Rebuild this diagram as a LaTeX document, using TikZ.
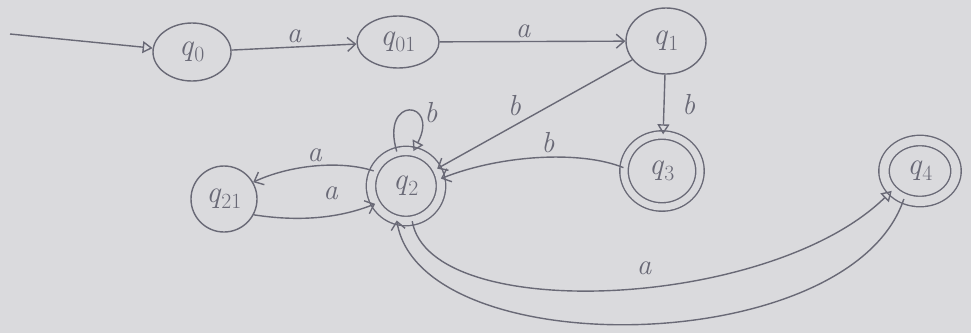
\documentclass[tikz,border=0pt]{standalone}
\usetikzlibrary{arrows.meta,shapes.geometric}
\definecolor{paper}{RGB}{218,218,221}
\definecolor{pencil}{RGB}{105,105,118}
\newcommand{\qs}[1]{\textit{q}\textsubscript{#1}}
\begin{document}
\begin{tikzpicture}[x=1pt,y=-1pt,
  st/.style={draw=pencil, line width=1.4pt, ellipse, inner sep=0pt, text=pencil, font=\fontsize{31}{36}\selectfont},
  acc/.style={st, double=paper, double distance=8pt},
  tr/.style={draw=pencil, line width=1.4pt, -{Straight Barb[length=8pt,width=14pt]}},
  trt/.style={draw=pencil, line width=1.4pt, -{Triangle[open,length=10pt,width=12pt]}},
  lab/.style={text=pencil, font=\fontsize{29}{33}\selectfont\itshape}]
\fill[paper] (0,0) rectangle (971,333);
\useasboundingbox (0,0) rectangle (971,333);

\node[st, minimum width=78pt, minimum height=58pt] (q0) at (192,52) {\qs{0}};
\node[st, minimum width=82pt, minimum height=52pt] (q01) at (398,42) {\qs{01}};
\node[st, minimum width=80pt, minimum height=66pt] (q1) at (666,41) {\qs{1}};
\node[acc, minimum width=70pt, minimum height=70pt] (q2) at (406,186) {\qs{2}};
\node[st, minimum width=66pt, minimum height=66pt] (q21) at (224,199) {\qs{21}};
\node[acc, minimum width=76pt, minimum height=72pt, double distance=7pt] (q3) at (662,171) {\qs{3}};
\node[acc, minimum width=72pt, minimum height=61pt, double distance=9pt] (q4) at (920,171) {\qs{4}};

\coordinate (s) at (10,34);
\draw[trt] (s) -- (q0);
\draw[tr] (q0) -- node[lab, above] {a} (q01);
\draw[tr] (q01) -- node[lab, above, pos=0.45] {a} (q1);
\draw[tr] (q1) -- node[lab, pos=0.55, above left] {b} (q2);
\draw[trt] (q1) -- node[lab, right, xshift=14pt] {b} (q3);
\draw[tr] (q3.175) .. controls (580,150) and (500,155) .. node[lab, pos=0.45, above] {b} (q2.12);
\draw[trt] (q2.105) .. controls (380,95) and (440,100) .. node[lab, pos=0.6, right, xshift=6pt] {b} (q2.78);
\draw[tr] (q2.155) .. controls (340,160) and (290,165) .. node[lab, above] {a} (q21.30);
\draw[tr] (q21.-28) .. controls (300,222) and (340,218) .. node[lab, pos=0.6, above, yshift=12pt] {a} (q2.-150);
\draw[trt] (q2.-80) .. controls (430,325) and (770,310) .. node[lab, pos=0.55, above, yshift=8pt] {a} (q4.-145);
\draw[tr] (q4.-120) .. controls (850,360) and (420,365) .. (q2.-105);
\end{tikzpicture}
\end{document}
